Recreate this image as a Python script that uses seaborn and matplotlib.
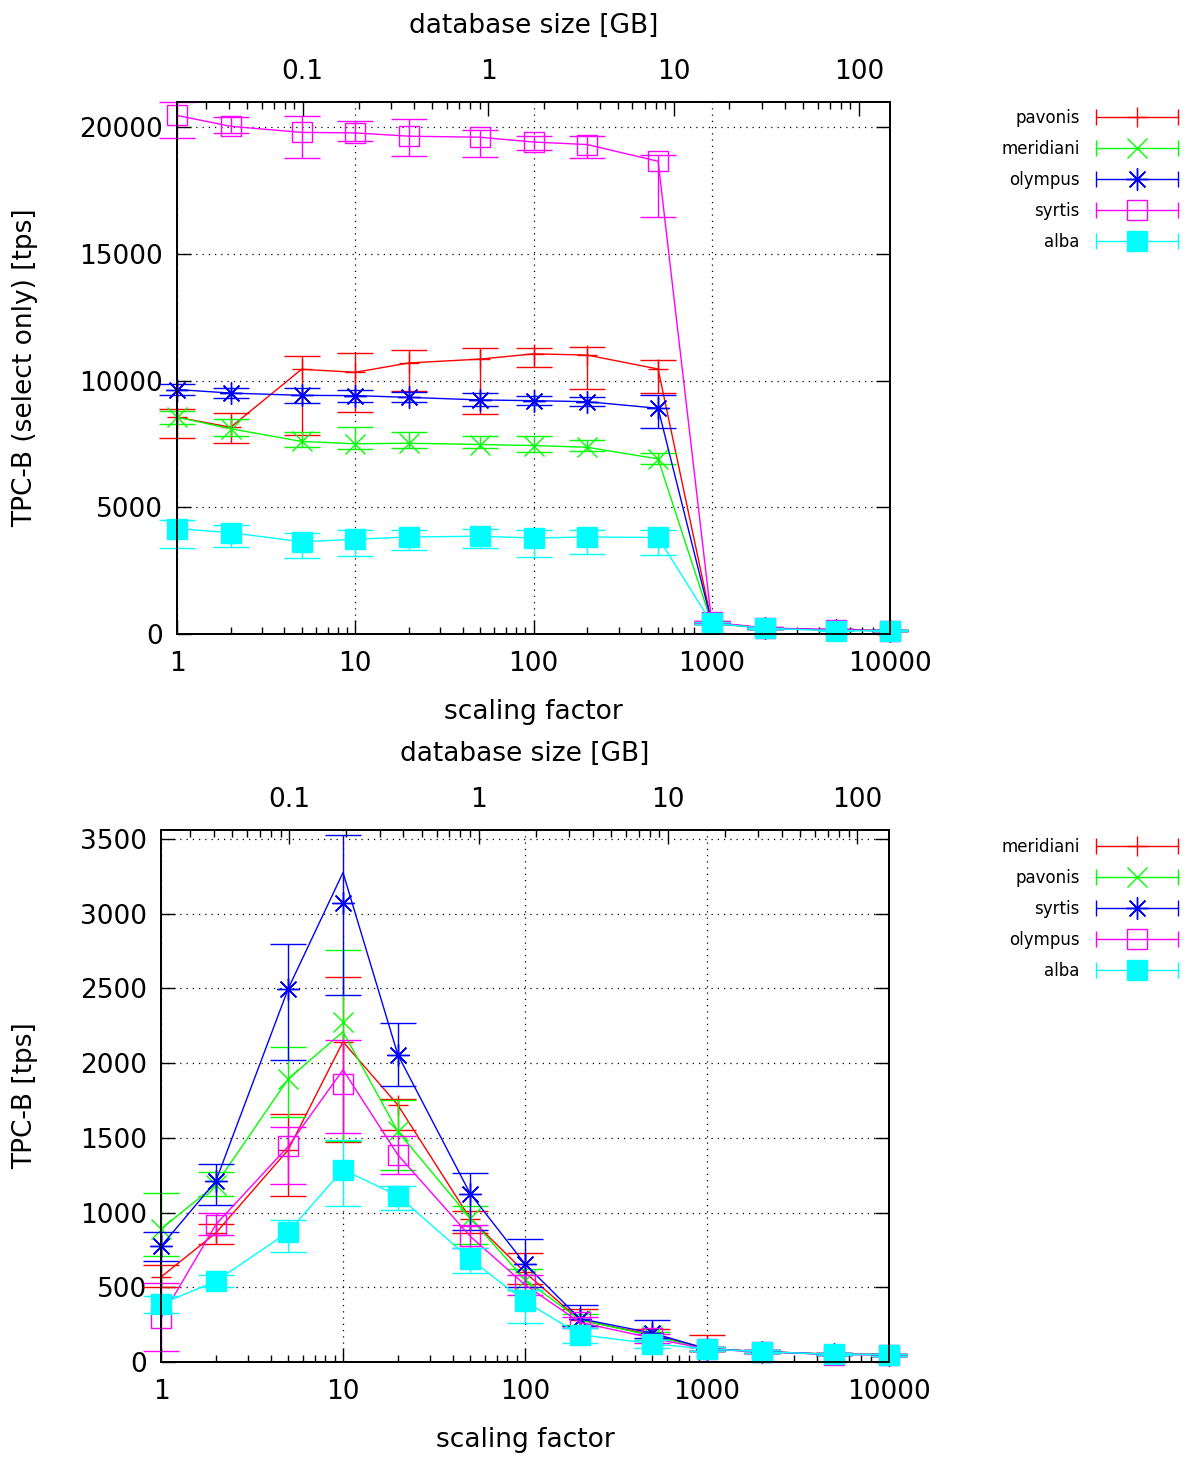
import numpy as np
import pandas as pd
import matplotlib
matplotlib.use("Agg")
import matplotlib.pyplot as plt
import seaborn as sns
from matplotlib.lines import Line2D
from matplotlib.legend_handler import HandlerLine2D, HandlerTuple

# pgbench scaling factors (x axis)
scale = [1, 2, 5, 10, 20, 50, 100, 200, 500, 1000, 2000, 5000, 10000]

# ---- top panel: TPC-B select only ----
sel_names = ["pavonis", "meridiani", "olympus", "syrtis", "alba"]
sel_tps = {
    "pavonis":   [8560, 8160, 10450, 10330, 10700, 10850, 11060, 11010, 10460, 450, 230, 160, 130],
    "meridiani": [8560, 8100, 7600, 7510, 7530, 7480, 7440, 7370, 6910, 420, 220, 150, 130],
    "olympus":   [9650, 9510, 9420, 9410, 9340, 9240, 9210, 9170, 8910, 440, 230, 160, 130],
    "syrtis":    [20470, 20040, 19800, 19780, 19650, 19610, 19420, 19320, 18660, 460, 240, 160, 130],
    "alba":      [4160, 4000, 3640, 3740, 3830, 3860, 3790, 3830, 3810, 430, 220, 130, 130],
}
sel_low = {
    "pavonis":   [7720, 7530, 7850, 8750, 9600, 8700, 10550, 9670, 9500, 400, 200, 140, 110],
    "meridiani": [8300, 7830, 7380, 7300, 7350, 7350, 7200, 7220, 6700, 390, 200, 140, 120],
    "olympus":   [9450, 9300, 9100, 9150, 9150, 9000, 9050, 9000, 8140, 400, 210, 140, 110],
    "syrtis":    [19580, 19780, 18770, 19450, 18850, 18820, 19120, 18790, 16460, 420, 210, 140, 110],
    "alba":      [3390, 3440, 3000, 3080, 3310, 3390, 3040, 3140, 3110, 380, 200, 110, 110],
}
sel_high = {
    "pavonis":   [8900, 8740, 10960, 11100, 11230, 11270, 11290, 11340, 10830, 500, 260, 180, 150],
    "meridiani": [8800, 8500, 7990, 8160, 7990, 7830, 7830, 7650, 7150, 450, 240, 160, 140],
    "olympus":   [9850, 9700, 9700, 9650, 9550, 9500, 9400, 9350, 9450, 480, 250, 180, 150],
    "syrtis":    [21000, 20390, 20460, 20260, 20330, 19910, 19670, 19670, 18890, 500, 270, 180, 150],
    "alba":      [4500, 4300, 4000, 4100, 4100, 4150, 4100, 4100, 4100, 480, 240, 150, 150],
}

# ---- bottom panel: TPC-B read/write ----
rw_names = ["meridiani", "pavonis", "syrtis", "olympus", "alba"]
rw_tps = {
    "meridiani": [569, 863, 1420, 2140, 1720, 960, 600, 280, 183, 90, 70, 52, 50],
    "pavonis":   [890, 1187, 1894, 2272, 1543, 963, 551, 283, 175, 88, 69, 51, 50],
    "syrtis":    [774, 1209, 2498, 3070, 2057, 1126, 656, 290, 194, 88, 69, 51, 50],
    "olympus":   [294, 919, 1443, 1859, 1387, 841, 517, 265, 160, 86, 68, 50, 49],
    "alba":      [388, 540, 870, 1287, 1113, 689, 406, 183, 122, 87, 69, 51, 50],
}
rw_line = {
    "meridiani": [569, 863, 1420, 2143, 1720, 960, 600, 280, 183, 90, 70, 52, 50],
    "pavonis":   [890, 1187, 1894, 2210, 1543, 963, 551, 283, 175, 88, 69, 51, 50],
    "syrtis":    [774, 1209, 2498, 3275, 2057, 1126, 656, 290, 194, 88, 69, 51, 50],
    "olympus":   [294, 919, 1443, 1955, 1387, 841, 517, 265, 160, 86, 68, 50, 49],
    "alba":      [388, 540, 870, 1287, 1113, 689, 406, 183, 122, 87, 69, 51, 50],
}
rw_low = {
    "meridiani": [500, 791, 1113, 1470, 1550, 863, 520, 240, 150, 75, 60, 45, 42],
    "pavonis":   [707, 1108, 1637, 1476, 1287, 792, 480, 250, 150, 75, 60, 45, 42],
    "syrtis":    [678, 1049, 2021, 2453, 1844, 885, 500, 240, 160, 75, 60, 45, 42],
    "olympus":   [71, 852, 1191, 1532, 1260, 760, 450, 230, 130, 75, 60, 45, 42],
    "alba":      [330, 500, 736, 1046, 1019, 595, 261, 130, 95, 75, 60, 45, 42],
}
rw_high = {
    "meridiani": [646, 923, 1660, 2576, 1760, 1008, 729, 355, 220, 183, 80, 58, 56],
    "pavonis":   [1131, 1269, 2105, 2759, 1755, 1041, 620, 320, 200, 100, 78, 57, 56],
    "syrtis":    [870, 1326, 2800, 3524, 2268, 1265, 823, 383, 283, 100, 78, 57, 56],
    "olympus":   [530, 997, 1573, 2157, 1510, 920, 580, 300, 190, 100, 78, 57, 56],
    "alba":      [440, 580, 950, 1488, 1180, 760, 480, 230, 150, 100, 78, 57, 56],
}

gb_ticks = [0.1, 1, 10, 100]
gb_labels = ["0.1", "1", "10", "100"]
sf_ticks = [1, 10, 100, 1000, 10000]
sf_labels = ["1", "10", "100", "1000", "10000"]

# gnuplot-like line styles, assigned by plot order
colors = ["#ff0000", "#00ff00", "#0000ff", "#ff00ff", "#00ffff"]
markers = ["+", "x", (8, 2, 0), "s", "s"]
msizes = [15, 14, 16, 14, 14]
filled = [False, False, False, False, True]

sns.set_style("white")
plt.rcParams["font.family"] = ["DejaVu Sans"]
for k in ["text.color", "axes.labelcolor", "xtick.color", "ytick.color", "axes.edgecolor"]:
    plt.rcParams[k] = "black"
FS = 19


def draw_panel(ax, names, tps, line, low, high, ymax, yticks, ylabel, legend_top):
    ax.set_xscale("log")
    for i, name in enumerate(names):
        c = colors[i]
        df = pd.DataFrame({"scale": scale, "tps": line[name]})
        sns.lineplot(data=df, x="scale", y="tps", ax=ax, color=c, lw=1,
                     estimator=None, legend=False, zorder=2 + 2 * i)
        y = np.array(tps[name], dtype=float)
        lo = np.array(low[name], dtype=float)
        hi = np.array(high[name], dtype=float)
        eb = ax.errorbar(scale, y, yerr=[y - lo, hi - y], fmt="none", ecolor=c,
                         elinewidth=1, capsize=13, capthick=1, zorder=3 + 2 * i)
        for part in eb.lines:
            if part is None:
                continue
            for a in (part if isinstance(part, (tuple, list)) else [part]):
                a.set_clip_on(False)
        ax.plot(scale, y, ls="none", marker=markers[i], ms=msizes[i],
                mec=c, mfc=c if filled[i] else "none", mew=1,
                zorder=3 + 2 * i, clip_on=False)

    ax.set_xlim(1, 10000)
    ax.set_ylim(0, ymax)
    ax.set_xticks(sf_ticks)
    ax.set_xticklabels(sf_labels)
    ax.set_yticks(yticks)
    ax.set_yticklabels([str(v) for v in yticks])
    ax.tick_params(axis="x", which="major", direction="in", length=10, width=1,
                   labelsize=FS, pad=12, top=False, bottom=True)
    ax.tick_params(axis="x", which="minor", direction="in", length=5, width=1,
                   top=False, bottom=True)
    ax.tick_params(axis="y", direction="in", length=10, width=1, labelsize=FS,
                   pad=10, left=True, right=True)
    ax.grid(True, which="major", color="black", ls=(0, (1, 4)), lw=0.9)
    ax.set_axisbelow(True)
    for s in ax.spines.values():
        s.set_color("black")
        s.set_linewidth(1.3)
    ax.set_xlabel("scaling factor", fontsize=FS)
    ax.set_ylabel(ylabel, fontsize=FS)
    ax.xaxis.set_label_coords(0.5, -0.122)

    ax2 = ax.twiny()
    ax2.set_xscale("log")
    ax2.set_xlim(0.021, 147)
    ax2.set_xticks(gb_ticks)
    ax2.set_xticklabels(gb_labels)
    ax2.tick_params(axis="x", which="major", direction="in", length=10, width=1,
                    labelsize=FS, pad=12)
    ax2.tick_params(axis="x", which="minor", direction="in", length=5, width=1)
    ax2.set_xlabel("database size [GB]", fontsize=FS)
    ax2.xaxis.set_label_coords(0.5, 1.13)
    for s in ax2.spines.values():
        s.set_linewidth(1.3)

    handles, hmap = [], {}
    for i in range(len(names)):
        c = colors[i]
        caps = Line2D([], [], color=c, lw=1, marker="|", ms=11, mew=1)
        mark = Line2D([], [], color=c, ls="none", marker=markers[i], ms=msizes[i],
                      mec=c, mfc=c if filled[i] else "none", mew=1)
        hmap[caps] = HandlerLine2D(numpoints=2, marker_pad=0)
        handles.append((caps, mark))
    hmap[tuple] = HandlerTuple(ndivide=1, pad=0)
    ax.legend(handles, names, handler_map=hmap, loc="upper right",
              bbox_to_anchor=(1178 / 1187, legend_top), bbox_transform=ax.figure.transFigure,
              frameon=False, markerfirst=False, handlelength=4.9, handletextpad=1.0,
              labelspacing=0.78, fontsize=12, borderpad=0, borderaxespad=0)


fig = plt.figure(figsize=(11.87, 14.59), dpi=100)
ax_top = fig.add_axes([177 / 1187, 1 - 634 / 1459, 713 / 1187, 532 / 1459])
ax_bot = fig.add_axes([161 / 1187, 1 - 1362 / 1459, 728 / 1187, 532 / 1459])

draw_panel(ax_top, sel_names, sel_tps, sel_tps, sel_low, sel_high, 21000,
           [0, 5000, 10000, 15000, 20000], "TPC-B (select only) [tps]", 1 - 109 / 1459)
draw_panel(ax_bot, rw_names, rw_tps, rw_line, rw_low, rw_high, 3560,
           [0, 500, 1000, 1500, 2000, 2500, 3000, 3500], "TPC-B [tps]", 1 - 838 / 1459)

ax_top.yaxis.set_label_coords((38 - 177) / 713, 0.5)
ax_bot.yaxis.set_label_coords((38 - 161) / 728, 0.5)

fig.savefig("out.png", dpi=100)
plt.close(fig)
